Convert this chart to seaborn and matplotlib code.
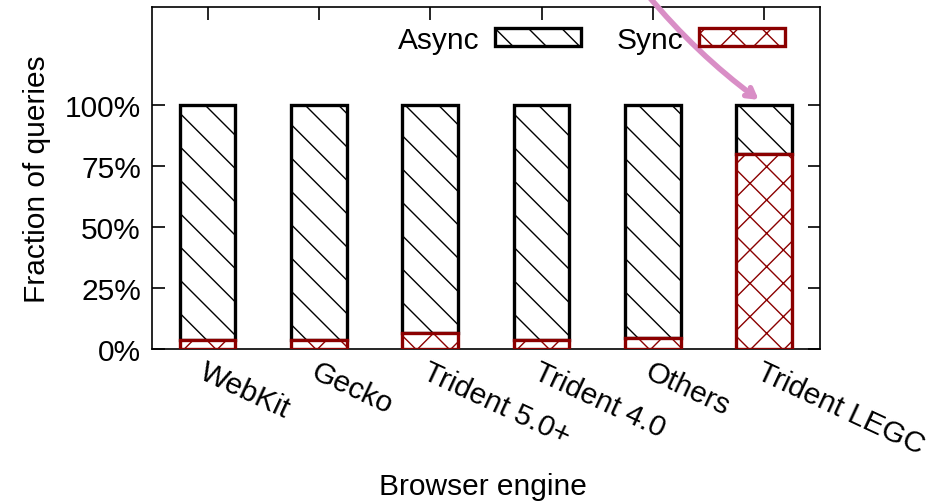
import numpy as np
import matplotlib
matplotlib.use("Agg")
import matplotlib.pyplot as plt
import seaborn as sns
from matplotlib.patches import Patch

engines = ["WebKit", "Gecko", "Trident 5.0+", "Trident 4.0", "Others", "Trident LEGC"]
sync_pct = [3.5, 3.5, 6.5, 3.5, 4.5, 80]
async_pct = [96.5, 96.5, 93.5, 96.5, 95.5, 20]
y_ticks = [0, 25, 50, 75, 100]

sns.set_style("white")
plt.rcParams["font.family"] = ["Liberation Sans", "DejaVu Sans"]
plt.rcParams["hatch.linewidth"] = 1.0
plt.rcParams["text.color"] = "black"
plt.rcParams["axes.labelcolor"] = "black"
plt.rcParams["xtick.color"] = "black"
plt.rcParams["ytick.color"] = "black"

dark_red = "#8b0000"
fs = 21.5

fig = plt.figure(figsize=(9.4, 5.02), dpi=100)
ax = fig.add_axes([0.1617, 0.3028, 0.7106, 0.6812])

# async part stacked on top of sync
sns.barplot(x=engines, y=async_pct, bottom=sync_pct, ax=ax, color="white",
            edgecolor="black", linewidth=2.4, hatch="\\", width=0.5, zorder=2)
sns.barplot(x=engines, y=sync_pct, ax=ax, color="white",
            edgecolor=dark_red, linewidth=2.4, hatch="x", width=0.5, zorder=3)

ax.set_xlim(-0.5, len(engines) - 0.5)
ax.set_ylim(0, 140)
ax.set_yticks(y_ticks)
ax.set_yticklabels([f"{t}%" for t in y_ticks])
ax.tick_params(axis="both", direction="in", length=9, width=1.2, labelsize=fs,
               top=True, right=True, bottom=True, left=True, pad=8)
ax.tick_params(axis="x", pad=6)
ax.set_xticks(range(len(engines)))
ax.set_xticklabels(engines, rotation=-25, ha="left", va="top", rotation_mode="anchor")

for s in ax.spines.values():
    s.set_visible(True)
    s.set_linewidth(1.2)
    s.set_color("black")

ax.set_xlabel("Browser engine", fontsize=fs)
ax.xaxis.set_label_coords(0.495, -0.36)
ax.set_ylabel("Fraction of queries", fontsize=fs, labelpad=10)

handles = [Patch(facecolor="white", edgecolor="black", hatch="\\", linewidth=2.4),
           Patch(facecolor="white", edgecolor=dark_red, hatch="x", linewidth=2.4)]
ax.legend(handles, ["Async", "Sync"], ncol=2, markerfirst=False, frameon=False,
          loc="center right", bbox_to_anchor=(0.948, 0.905), fontsize=fs,
          handlelength=2.9, handleheight=0.55, handletextpad=0.5,
          columnspacing=1.2, borderpad=0, borderaxespad=0)

ax.annotate("", xy=(4.95, 102), xytext=(3.95, 145), annotation_clip=False,
            arrowprops=dict(arrowstyle="->,head_length=0.6,head_width=0.35",
                            color="#d98ec6", lw=4, shrinkA=0, shrinkB=0,
                            connectionstyle="arc3,rad=0.06"), zorder=5)

fig.savefig("out.png", dpi=100)
